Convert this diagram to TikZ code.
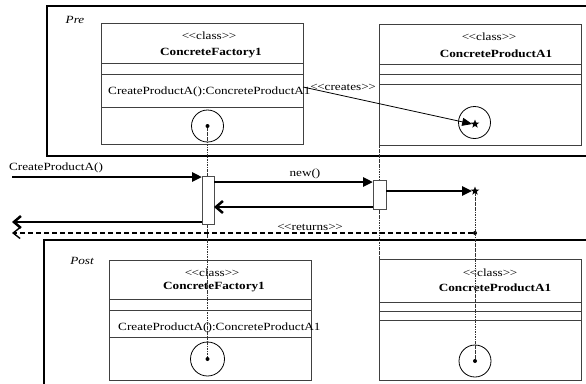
\documentclass[tikz,border=0pt]{standalone}
\usepackage{fontspec}
\setmainfont{Liberation Serif}[FakeStretch=1.2]
\usetikzlibrary{arrows.meta,shapes.geometric}
\newcommand\lgl{<\kern-0.5pt<}
\newcommand\rgr{>\kern-0.5pt>}
\begin{document}
\begin{tikzpicture}[x=1pt,y=-1pt,
  frame/.style={draw=black,line width=1.2pt},
  umlbox/.style={draw=black!75,line width=0.9pt,inner sep=0,outer sep=0,anchor=north west},
  cline/.style={draw=black!75,line width=0.9pt},
  txt/.style={inner sep=0,font=\fontsize{11}{13}\selectfont},
  btxt/.style={inner sep=0,font=\fontsize{11}{13}\selectfont\bfseries},
  itxt/.style={inner sep=0,font=\fontsize{11}{13}\selectfont\itshape},
  ring/.style={circle,draw=black,line width=0.8pt,inner sep=0,minimum size=32pt},
  dotn/.style={circle,fill=black,inner sep=0,minimum size=4pt},
  starn/.style={star,star points=5,star point ratio=2.4,fill=black,inner sep=0,minimum size=9pt},
  life/.style={black!80,line width=0.6pt,dash pattern=on 2.5pt off 1pt on 0.6pt off 1pt},
  actbox/.style={draw=black!70,fill=white,line width=0.8pt,inner sep=0,outer sep=0,anchor=north west},
  call/.style={line width=2.8pt,-{Triangle[length=10pt,width=9pt]}},
  ret/.style={line width=2.5pt,-{Straight Barb[length=7pt,width=12pt]}},
  retdash/.style={line width=1.4pt,dash pattern=on 5pt off 3pt,-{Straight Barb[length=7pt,width=11pt]}},
  creates/.style={line width=0.8pt,-{Triangle[length=10pt,width=8pt]}}
]
\useasboundingbox (0,0) rectangle (586,383);

% frames
\draw[frame] (590,6) -- (47,6) -- (47,156) -- (590,156);
\draw[frame] (590,240) -- (44,240) -- (44,390);
\node[itxt] (pre) at (75,20) {Pre};
\node[itxt] (post) at (82,261) {Post};

% Pre: ConcreteFactory1
\node[umlbox,minimum width=202pt,minimum height=121pt] (pf) at (101,23) {};
\draw[cline] (pf.west |- 0,63) -- (pf.east |- 0,63);
\draw[cline] (pf.west |- 0,74) -- (pf.east |- 0,74);
\draw[cline] (pf.west |- 0,107) -- (pf.east |- 0,107);
\node[txt] (pfst) at (209,36) {\lgl class\rgr};
\node[btxt] (pfname) at (211,53) {ConcreteFactory1};
\node[txt,anchor=west] (pfop) at (108,92) {CreateProductA():ConcreteProductA1};
\node[ring] (pfc) at (207.5,126) {};
\node[dotn] (pfd) at (pfc.center) {};

% Pre: ConcreteProductA1
\node[umlbox,minimum width=202pt,minimum height=121pt] (pp) at (379.5,24) {};
\draw[cline] (pp.west |- 0,64) -- (pp.east |- 0,64);
\draw[cline] (pp.west |- 0,74) -- (pp.east |- 0,74);
\draw[cline] (pp.west |- 0,84) -- (pp.east |- 0,84);
\node[txt] (ppst) at (489,37) {\lgl class\rgr};
\node[btxt] (ppname) at (496,54) {ConcreteProductA1};
\node[ring] (ppc) at (474.5,122.5) {};
\node[starn] (pps) at (475,124) {};
\coordinate (crs) at (303,87);
\draw[creates] (crs) -- (pps.west);
\node[txt] (lblcr) at (343,87) {\lgl creates\rgr};

% Post: ConcreteFactory1
\node[umlbox,minimum width=202pt,minimum height=120pt] (qf) at (109,260) {};
\draw[cline] (qf.west |- 0,299) -- (qf.east |- 0,299);
\draw[cline] (qf.west |- 0,310) -- (qf.east |- 0,310);
\draw[cline] (qf.west |- 0,337) -- (qf.east |- 0,337);
\node[txt] (qfst) at (212,273) {\lgl class\rgr};
\node[btxt] (qfname) at (214,287) {ConcreteFactory1};
\node[txt,anchor=west] (qfop) at (118,328) {CreateProductA():ConcreteProductA1};
\node[ring,minimum size=34pt] (qfc) at (207.5,359) {};
\node[dotn] (qfd) at (qfc.center) {};

% Post: ConcreteProductA1
\node[umlbox,minimum width=202pt,minimum height=121pt] (qp) at (379.5,259) {};
\draw[cline] (qp.west |- 0,302) -- (qp.east |- 0,302);
\draw[cline] (qp.west |- 0,311) -- (qp.east |- 0,311);
\draw[cline] (qp.west |- 0,320) -- (qp.east |- 0,320);
\node[txt] (qpst) at (490,273) {\lgl class\rgr};
\node[btxt] (qpname) at (495,288) {ConcreteProductA1};
\node[ring] (qpc) at (475,361) {};
\node[dotn] (qpd) at (qpc.center) {};

% lifelines
\node[starn] (st2) at (475,191) {};
\node[dotn] (rdot) at (475,233) {};
\draw[life] (pfd) -- (qfd);
\draw[life] (pp.south west) -- (qp.north west);
\draw[life] (st2) -- (qpd);

% activation boxes
\node[actbox,minimum width=12pt,minimum height=48pt] (act1) at (202,176) {};
\node[actbox,minimum width=13pt,minimum height=29pt] (act2) at (373,180) {};

% messages
\coordinate (in1) at (12,177);
\coordinate (out1) at (12,222);
\coordinate (out2) at (12,233);
\draw[call] (in1) -- (act1.west |- in1);
\node[txt] (lblcall) at (56,168) {CreateProductA()};
\draw[call] (act1.east |- 0,182) -- (act2.west |- 0,182);
\node[txt] (lblnew) at (305,174) {new()};
\draw[call] (act2.east |- 0,191) -- (st2.west);
\draw[ret] (act2.west |- 0,207) -- (act1.east |- 0,207);
\draw[ret] (act1.west |- out1) -- (out1);
\draw[retdash] (rdot) -- (out2);
\node[txt] (lblret) at (310,227) {\lgl returns\rgr};
\end{tikzpicture}
\end{document}
